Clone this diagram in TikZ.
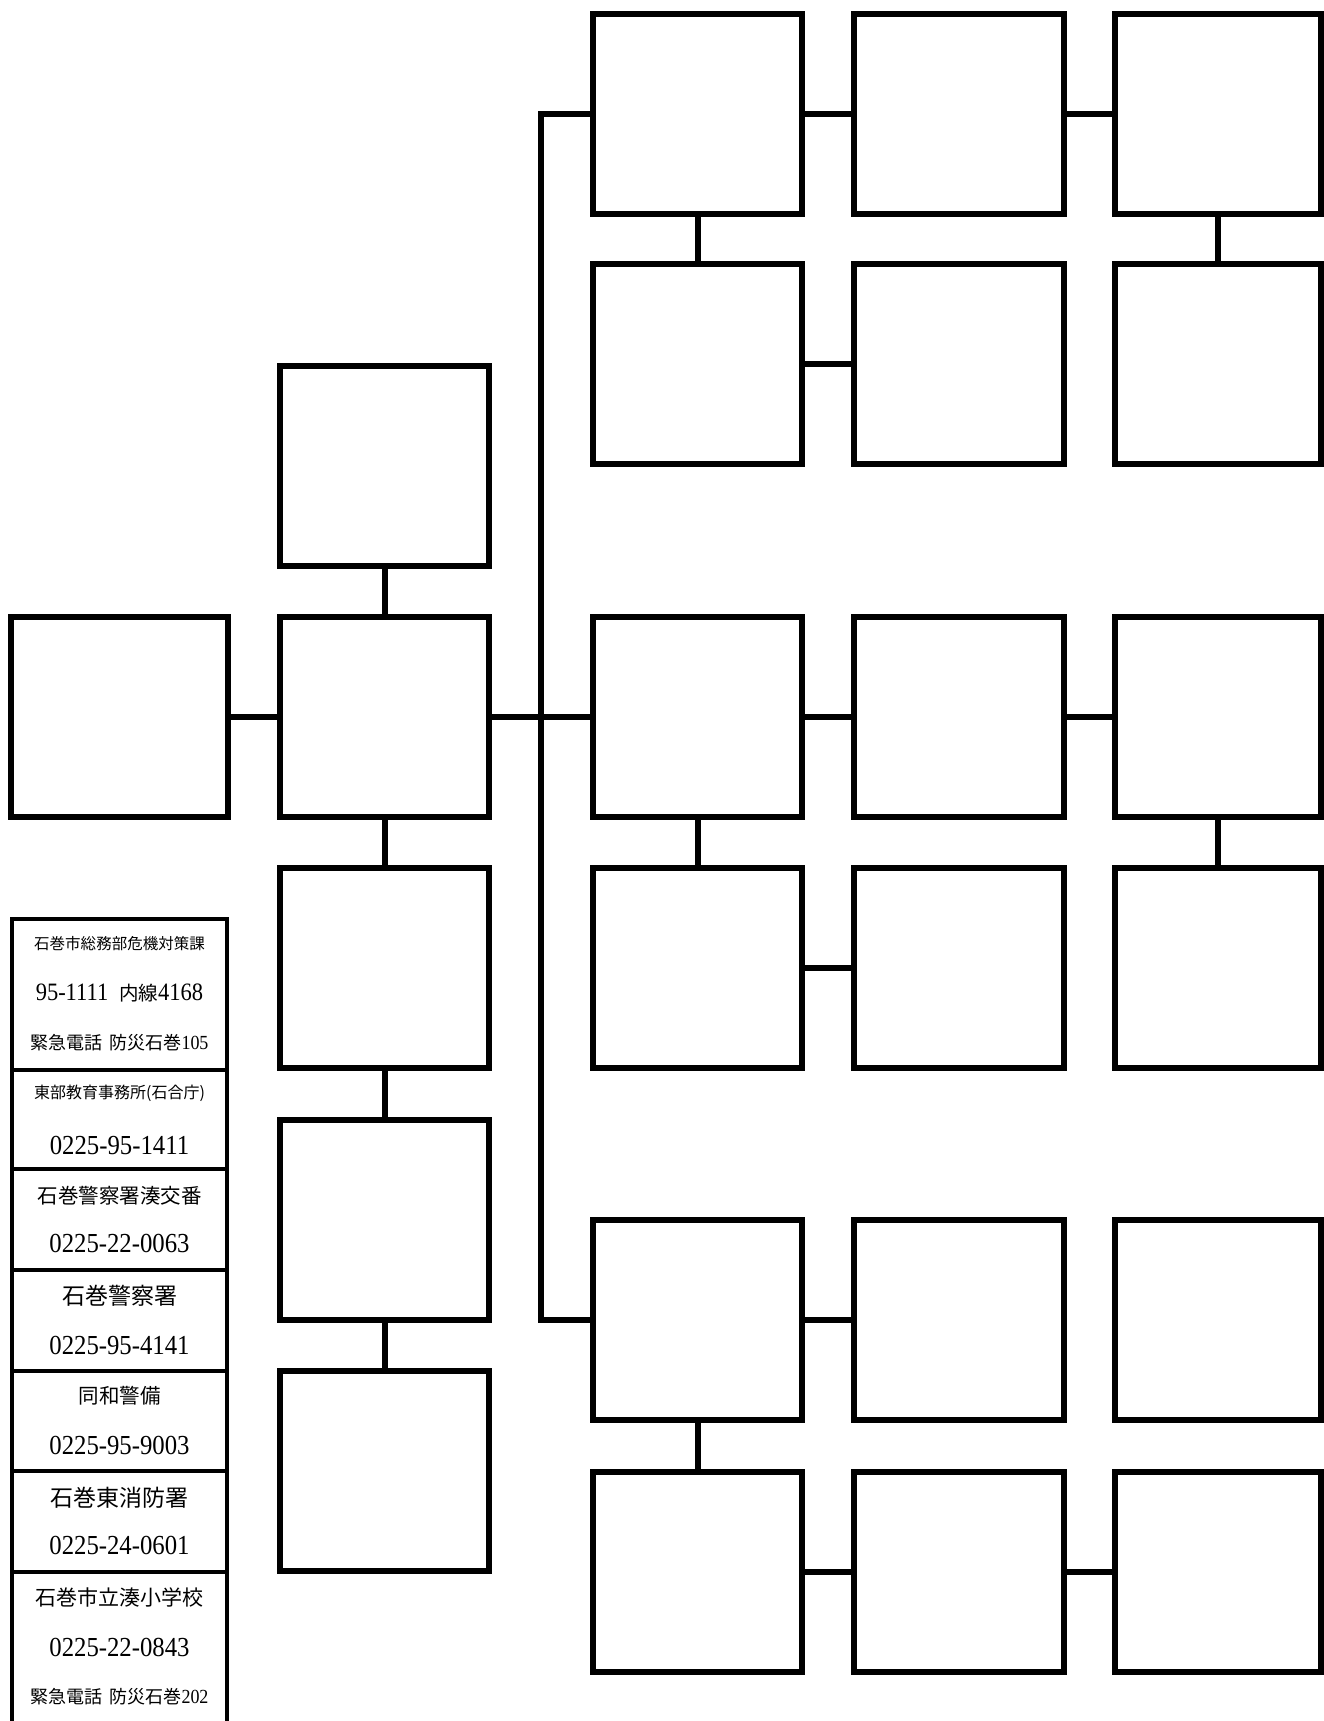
\documentclass[tikz,border=0pt]{standalone}
\usepackage{fontspec}
\setmainfont{Liberation Serif}
\newfontfamily\cjk{Noto Sans CJK JP}
\newfontfamily\numfont[FakeStretch=0.9]{Liberation Serif}
\newcommand\jtxt[2]{{\cjk\fontsize{#1}{#1}\selectfont #2}}
\newcommand\ntxt[2]{{\numfont\fontsize{#1}{#1}\selectfont #2}}
\begin{document}
\begin{tikzpicture}[x=1pt,y=-1pt,
  bx/.style={draw, line width=6pt, minimum width=209pt, minimum height=200pt, inner sep=0pt, outer sep=0pt},
  link/.style={line width=6pt},
  tbl/.style={line width=4pt},
  tx/.style={inner sep=0pt, anchor=center}]
\useasboundingbox[fill=white] (0,0) rectangle (1324,1721);
% left part
\node[bx, minimum width=217pt] (A) at (119.5,717) {};
\node[bx] (B) at (384.5,466) {};
\node[bx] (C) at (384.5,717) {};
\node[bx] (D) at (384.5,968) {};
\node[bx] (E) at (384.5,1220) {};
\node[bx] (F) at (384.5,1471) {};
% grid group 1
\node[bx] (g11a) at (697.5,114) {};
\node[bx, minimum width=210pt] (g11b) at (959,114) {};
\node[bx, minimum width=206pt] (g11c) at (1218,114) {};
\node[bx] (g12a) at (697.5,364) {};
\node[bx, minimum width=210pt] (g12b) at (959,364) {};
\node[bx, minimum width=206pt] (g12c) at (1218,364) {};
% grid group 2
\node[bx] (g21a) at (697.5,717) {};
\node[bx, minimum width=210pt] (g21b) at (959,717) {};
\node[bx, minimum width=206pt] (g21c) at (1218,717) {};
\node[bx] (g22a) at (697.5,968) {};
\node[bx, minimum width=210pt] (g22b) at (959,968) {};
\node[bx, minimum width=206pt] (g22c) at (1218,968) {};
% grid group 3
\node[bx] (g31a) at (697.5,1320) {};
\node[bx, minimum width=210pt] (g31b) at (959,1320) {};
\node[bx, minimum width=206pt] (g31c) at (1218,1320) {};
\node[bx] (g32a) at (697.5,1572) {};
\node[bx, minimum width=210pt] (g32b) at (959,1572) {};
\node[bx, minimum width=206pt] (g32c) at (1218,1572) {};
% connectors
\coordinate (trunk) at (541,0);
\draw[link] (A.east) -- (C.west);
\draw[link] (B.south) -- (C.north);
\draw[link] (C.south) -- (D.north);
\draw[link] (D.south) -- (E.north);
\draw[link] (E.south) -- (F.north);
\draw[link] (C.east) -- (g21a.west);
\draw[link] (g11a.west) -- (g11a.west -| trunk) -- (g31a.west -| trunk) -- (g31a.west);
\draw[link] (g11a.east) -- (g11b.west);
\draw[link] (g11b.east) -- (g11c.west);
\draw[link] (g11a.south) -- (g12a.north);
\draw[link] (g11c.south) -- (g12c.north);
\draw[link] (g12a.east) -- (g12b.west);
\draw[link] (g21a.east) -- (g21b.west);
\draw[link] (g21b.east) -- (g21c.west);
\draw[link] (g21a.south) -- (g22a.north);
\draw[link] (g21c.south) -- (g22c.north);
\draw[link] (g22a.east) -- (g22b.west);
\draw[link] (g31a.east) -- (g31b.west);
\draw[link] (g31a.south) -- (g32a.north);
\draw[link] (g32a.east) -- (g32b.west);
\draw[link] (g32b.east) -- (g32c.west);
% contact table
\draw[tbl] (12,1726) -- (12,919) -- (227,919) -- (227,1726);
\foreach \yy in {1070,1169,1270,1371,1471,1572} \draw[tbl] (12,\yy) -- (227,\yy);
\node[tx] (t1) at (119.5,944) {\jtxt{15.5}{石巻市総務部危機対策課}};
\node[tx] (t2) at (119.5,993) {\ntxt{25}{95-1111}\hspace{11pt}\jtxt{19.5}{内線}\ntxt{25}{4168}};
\node[tx] (t3) at (119.5,1043) {\jtxt{18}{緊急電話\hspace{7pt}防災石巻}\ntxt{20}{105}};
\node[tx] (t4) at (119.5,1093) {\jtxt{16}{東部教育事務所(石合庁)}};
\node[tx] (t5) at (119.5,1145) {\ntxt{27.5}{0225-95-1411}};
\node[tx] (t6) at (119.5,1196) {\jtxt{20.5}{石巻警察署湊交番}};
\node[tx] (t7) at (119.5,1243) {\ntxt{27.5}{0225-22-0063}};
\node[tx] (t8) at (119.5,1296) {\jtxt{23}{石巻警察署}};
\node[tx] (t9) at (119.5,1345) {\ntxt{27.5}{0225-95-4141}};
\node[tx] (t10) at (119.5,1396) {\jtxt{20.5}{同和警備}};
\node[tx] (t11) at (119.5,1445) {\ntxt{27.5}{0225-95-9003}};
\node[tx] (t12) at (119.5,1498) {\jtxt{23}{石巻東消防署}};
\node[tx] (t13) at (119.5,1545) {\ntxt{27.5}{0225-24-0601}};
\node[tx] (t14) at (119.5,1597) {\jtxt{21}{石巻市立湊小学校}};
\node[tx] (t15) at (119.5,1647) {\ntxt{27.5}{0225-22-0843}};
\node[tx] (t16) at (119.5,1697) {\jtxt{18}{緊急電話\hspace{7pt}防災石巻}\ntxt{20}{202}};
\end{tikzpicture}
\end{document}
